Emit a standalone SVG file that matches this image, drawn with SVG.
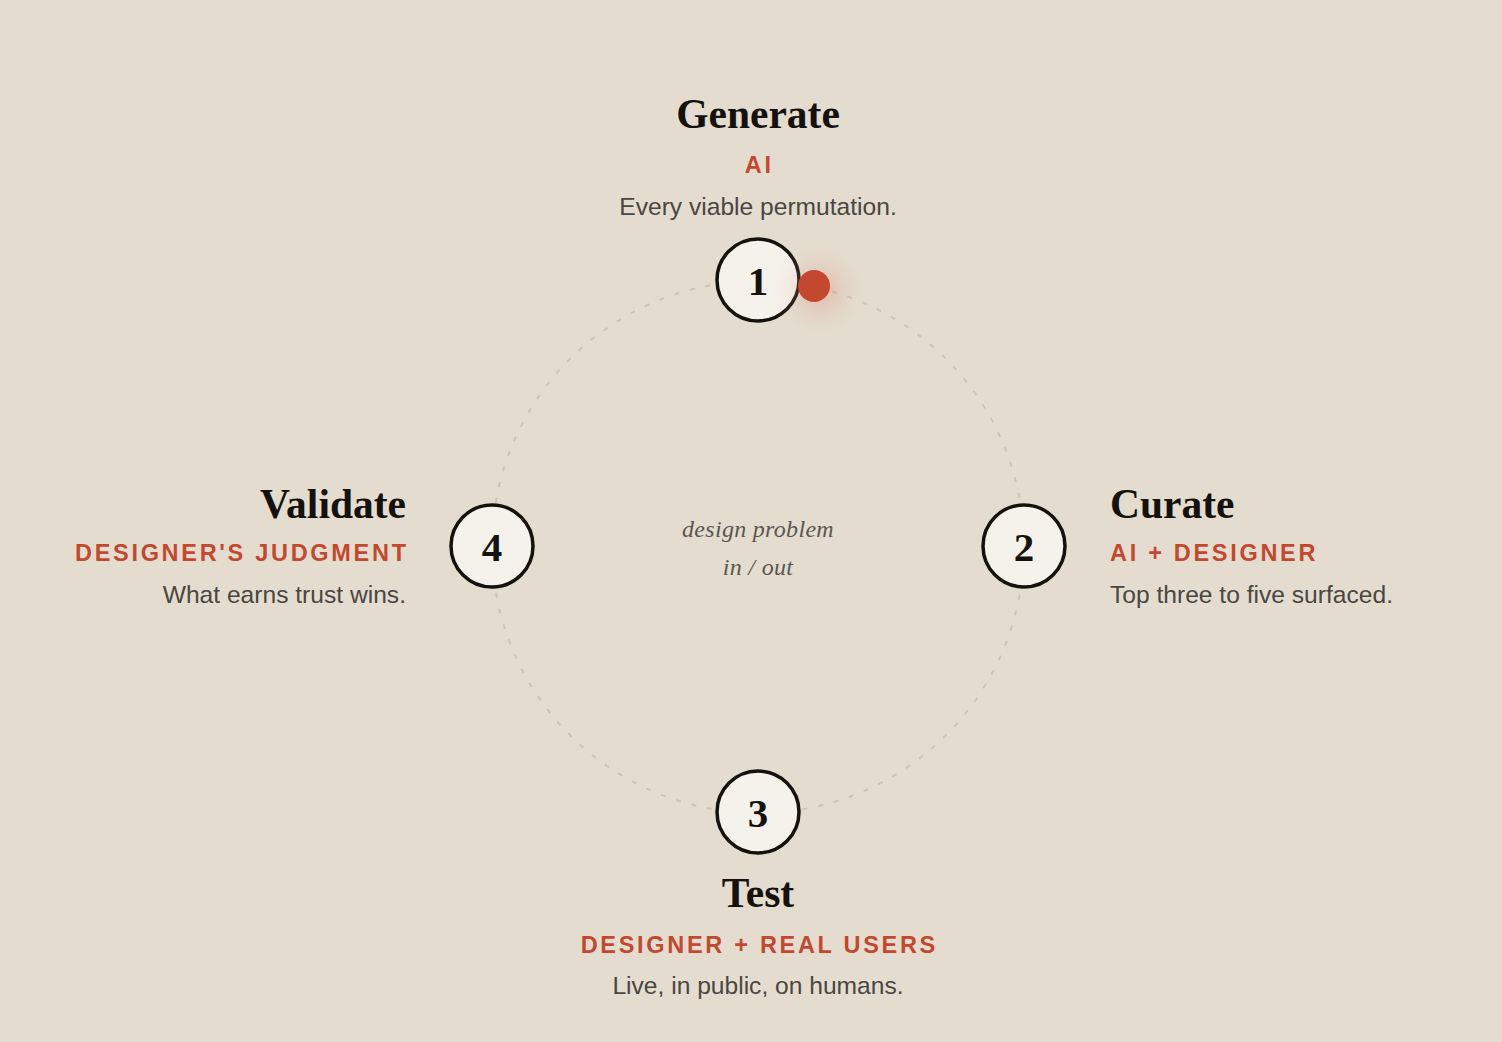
<svg xmlns="http://www.w3.org/2000/svg" width="1502" height="1042" viewBox="0 0 1502 1042">
<style>
.title{font-family:"Liberation Serif","Times New Roman",serif;font-weight:700;font-size:41.5px;fill:#15110d}
.role{font-family:"Liberation Sans",Arial,sans-serif;font-weight:700;font-size:23.5px;letter-spacing:2.7px;fill:#c4472f}
.desc{font-family:"Liberation Sans",Arial,sans-serif;font-size:24.6px;fill:#4a4642}
.num{font-family:"Liberation Serif","Times New Roman",serif;font-weight:700;font-size:41px;fill:#15110d;text-anchor:middle}
.node{fill:#f5f2ec;stroke:#15110d;stroke-width:3.5}
.center{font-family:"Liberation Serif","Times New Roman",serif;font-style:italic;font-size:24px;fill:#5a5550;text-anchor:middle;letter-spacing:0.3px}
</style>
<defs>
<radialGradient id="glow" cx="0.5" cy="0.5" r="0.5">
<stop offset="0" stop-color="#d9705c" stop-opacity="0.35"/>
<stop offset="0.5" stop-color="#e0998a" stop-opacity="0.15"/>
<stop offset="1" stop-color="#e5ddd0" stop-opacity="0"/>
</radialGradient>
</defs>
<rect width="1502" height="1042" fill="#e4ddcf"/>
<g id="connectors">
<circle cx="758" cy="547" r="266" fill="none" stroke="#cdc4b5" stroke-width="2" stroke-dasharray="5 11"/>
</g>
<g id="center-label">
<text class="center" x="758" y="537">design problem</text>
<text class="center" x="758" y="575">in / out</text>
</g>
<g id="node-1">
<circle class="node" cx="758" cy="280" r="41"/>
<text class="num" x="758" y="295">1</text>
<text class="title" x="758" y="128" text-anchor="middle">Generate</text>
<text class="role" x="759.3" y="173" text-anchor="middle">AI</text>
<text class="desc" x="758" y="215" text-anchor="middle">Every viable permutation.</text>
</g>
<g id="node-2">
<circle class="node" cx="1024" cy="546" r="41"/>
<text class="num" x="1024" y="561">2</text>
<text class="title" x="1110" y="518">Curate</text>
<text class="role" x="1110" y="561">AI + DESIGNER</text>
<text class="desc" x="1110" y="603">Top three to five surfaced.</text>
</g>
<g id="node-3">
<circle class="node" cx="758" cy="812" r="41"/>
<text class="num" x="758" y="827">3</text>
<text class="title" x="758" y="907" text-anchor="middle">Test</text>
<text class="role" x="759.3" y="953" text-anchor="middle">DESIGNER + REAL USERS</text>
<text class="desc" x="758" y="994" text-anchor="middle">Live, in public, on humans.</text>
</g>
<g id="node-4">
<circle class="node" cx="492" cy="546" r="41"/>
<text class="num" x="492" y="561">4</text>
<text class="title" x="406" y="518" text-anchor="end">Validate</text>
<text class="role" x="408.7" y="561" text-anchor="end">DESIGNER'S JUDGMENT</text>
<text class="desc" x="406" y="603" text-anchor="end">What earns trust wins.</text>
</g>
<g id="marker-dot">
<circle cx="820" cy="290" r="52" fill="url(#glow)"/>
<circle cx="814" cy="286" r="16" fill="#c4472f"/>
</g>
</svg>
